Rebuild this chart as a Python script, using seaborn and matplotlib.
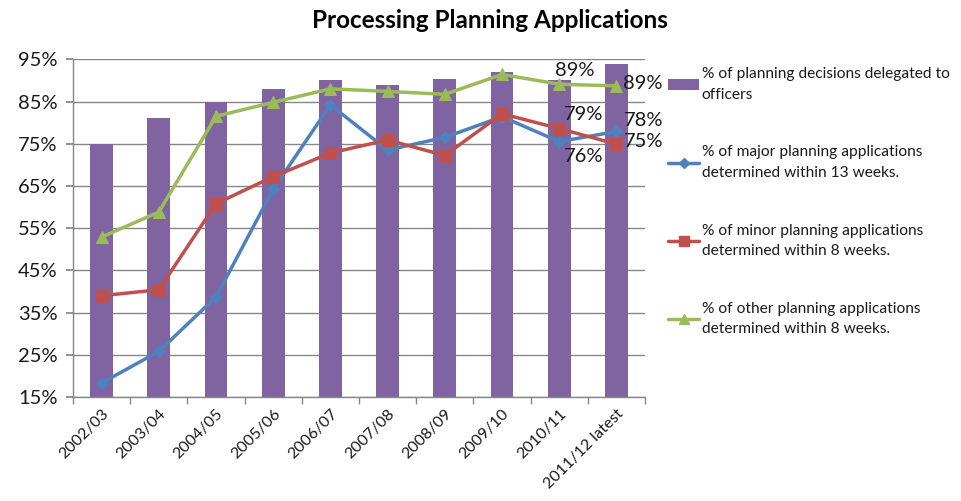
import numpy as np
import pandas as pd
import matplotlib
matplotlib.use("Agg")
import matplotlib.pyplot as plt
import seaborn as sns
from matplotlib.patches import Patch
from matplotlib.lines import Line2D

categories = ["2002/03", "2003/04", "2004/05", "2005/06", "2006/07",
              "2007/08", "2008/09", "2009/10", "2010/11", "2011/12 latest"]
delegated = [75, 81, 85, 88, 90, 89, 90.3, 92, 90, 94]
major = [18.3, 25.8, 38.7, 64.2, 84.2, 73.5, 76.5, 81.4, 75.5, 77.9]
minor = [39, 40.4, 60.8, 67.2, 72.8, 75.9, 72.2, 82.1, 78.6, 74.9]
other = [52.9, 58.8, 81.5, 84.8, 88, 87.4, 86.7, 91.4, 89.1, 88.7]

series_labels = ["% of planning decisions delegated to\nofficers",
                 "% of major planning applications\ndetermined within 13 weeks.",
                 "% of minor planning applications\ndetermined within 8 weeks.",
                 "% of other planning applications\ndetermined within 8 weeks."]
yticks = [15, 25, 35, 45, 55, 65, 75, 85, 95]

sns.set_theme(style="white")
plt.rcParams['font.family'] = ['Lato', 'DejaVu Sans']

c_bar = "#8064A2"
c_major = "#4F81BD"
c_minor = "#C0504D"
c_other = "#9BBB59"

fig = plt.figure(figsize=(9.62, 5.01), dpi=100)
ax = fig.add_axes([73/962, 1-397/501, (645-73)/962, (397-59.3)/501])

df = pd.DataFrame({"cat": categories, "val": delegated})
sns.barplot(data=df, x="cat", y="val", color=c_bar, width=0.4, ax=ax,
            saturation=1, edgecolor="none")

xpos = np.arange(len(categories))
sns.lineplot(x=xpos, y=major, color=c_major, lw=2.5, marker="D", markersize=6,
             markeredgecolor=c_major, ax=ax)
sns.lineplot(x=xpos, y=minor, color=c_minor, lw=2.5, marker="s", markersize=8,
             markeredgecolor=c_minor, ax=ax)
sns.lineplot(x=xpos, y=other, color=c_other, lw=2.5, marker="^", markersize=8,
             markeredgecolor=c_other, ax=ax)

ax.set_ylim(15, 95)
ax.set_xlim(-0.5, len(categories) - 0.5)
ax.set_yticks(yticks)
ax.set_yticklabels([f"{v}%" for v in yticks], fontsize=14.5, color="#1a1a1a")
ax.set_xticks(xpos)
ax.set_xticklabels(categories, rotation=45, ha="right", rotation_mode="anchor",
                   fontsize=11.5, color="#1a1a1a")
ax.tick_params(axis="x", length=0, pad=7)
ax.set_xticks(np.arange(-0.5, len(categories)), minor=True)
ax.tick_params(axis="x", which="minor", length=5, color="#868686", direction="out", bottom=True)
ax.tick_params(axis="y", length=5, color="#868686", direction="out", left=True, pad=6)
ax.set_xlabel("")
ax.set_ylabel("")
ax.grid(axis="y", color="#868686", lw=1)
ax.set_axisbelow(True)
for s in ["top", "right"]:
    ax.spines[s].set_visible(False)
for s in ["left", "bottom"]:
    ax.spines[s].set_color("#868686")
    ax.spines[s].set_linewidth(1)

# data labels
lab_kw = dict(textcoords="offset pixels", fontsize=14.5, color="#1a1a1a", va="center")
ax.annotate(f"{other[8]:.0f}%", (8, other[8]), xytext=(16, 14), ha="center", **lab_kw)
ax.annotate(f"{other[9]:.0f}%", (9, other[9]), xytext=(7, 2), ha="left", **lab_kw)
ax.annotate(f"{minor[8]:.0f}%", (8, minor[8]), xytext=(5, 14), ha="left", **lab_kw)
ax.annotate(f"{major[8]:.0f}%", (8, major[8]), xytext=(5, -15), ha="left", **lab_kw)
ax.annotate(f"{major[9]:.0f}%", (9, major[9]), xytext=(7, 11), ha="left", **lab_kw)
ax.annotate(f"{minor[9]:.0f}%", (9, minor[9]), xytext=(7, 3), ha="left", **lab_kw)

fig.text(490/962, 1-20/501, "Processing Planning Applications", ha="center", va="center",
         fontsize=17.5, fontweight="bold", color="#000000")

handles = [Patch(facecolor=c_bar, edgecolor="none"),
           Line2D([0], [0], color=c_major, lw=2.5, marker="D", markersize=5),
           Line2D([0], [0], color=c_minor, lw=2.5, marker="s", markersize=7),
           Line2D([0], [0], color=c_other, lw=2.5, marker="^", markersize=7)]
leg = fig.legend(handles, series_labels, loc="upper left",
                 bbox_to_anchor=(662/962, 1-61/501), frameon=False,
                 fontsize=11.2, labelspacing=2.8, handlelength=2.0,
                 handletextpad=0.15, borderaxespad=0)
for t in leg.get_texts():
    t.set_color("#1a1a1a")
    t.set_linespacing(1.6)

fig.savefig("out.png", dpi=100)
